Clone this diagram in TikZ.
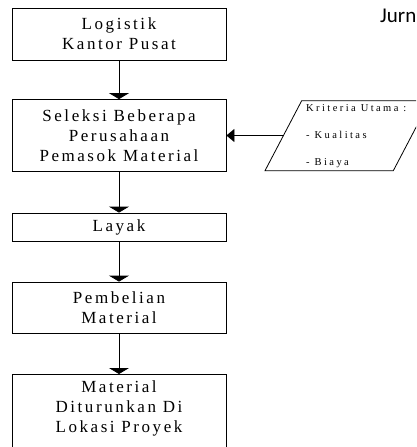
\documentclass[tikz,border=0pt]{standalone}
\usepackage{fontspec}
\setmainfont{Liberation Serif}
\newfontfamily\renggang{Liberation Serif}[LetterSpace=15]
\newfontfamily\renggangkecil{Liberation Serif}[LetterSpace=23]
\newfontfamily\kalibri{Carlito}
\usetikzlibrary{arrows.meta}
\tikzset{
  kotak/.style={draw,line width=0.8pt,minimum width=214pt,inner sep=0pt,align=center,
    font=\renggang\fontsize{17}{20}\selectfont},
  jajar/.style={draw,line width=0.8pt},
  isikecil/.style={inner sep=0pt,align=left,font=\renggangkecil\fontsize{10.5}{26.7}\selectfont},
  panah/.style={line width=0.8pt,-{Triangle[width=20pt,length=6pt]}},
  panahkiri/.style={line width=0.8pt,-{Triangle[width=13pt,length=8pt]}},
}
\begin{document}
\begin{tikzpicture}[x=1pt,y=-1pt]
  \useasboundingbox (0,0) rectangle (416,447);
  \clip (0,0) rectangle (416,447);
  \node[kotak,minimum height=52pt] (logistik) at (119,34) {Logistik\\Kantor Pusat};
  \node[kotak,minimum height=72pt] (seleksi) at (119,135.5) {Seleksi Beberapa\\Perusahaan\\Pemasok Material};
  \node[kotak,minimum height=28pt] (layak) at (119,227) {Layak};
  \node[kotak,minimum height=51pt] (pembelian) at (119,307.5) {Pembelian\\Material};
  \node[kotak,anchor=north,inner ysep=6.1pt,text depth=70pt] (lokasi) at (119,374)
    {Material\\Diturunkan Di\\Lokasi Proyek};
  \draw[jajar] (265,170.7) -- (301.7,100.7) -- (430,100.7) -- (393.3,170.7) -- cycle;
  \coordinate (masuk) at (283.4,135.5);
  \node[isikecil,anchor=north west] (isi) at (306,104.5) {Kriteria Utama :\\- Kualitas\\- Biaya};
  \node[font=\kalibri\fontsize{21}{25}\selectfont,anchor=base west,inner sep=0pt] (jurnal) at (380,23) {Jurn};
  \draw[panah] (logistik) -- (seleksi);
  \draw[panah] (seleksi) -- (layak);
  \draw[panah] (layak) -- (pembelian);
  \draw[panah] (pembelian) -- (lokasi);
  \draw[panahkiri] (masuk) -- (seleksi);
\end{tikzpicture}
\end{document}
